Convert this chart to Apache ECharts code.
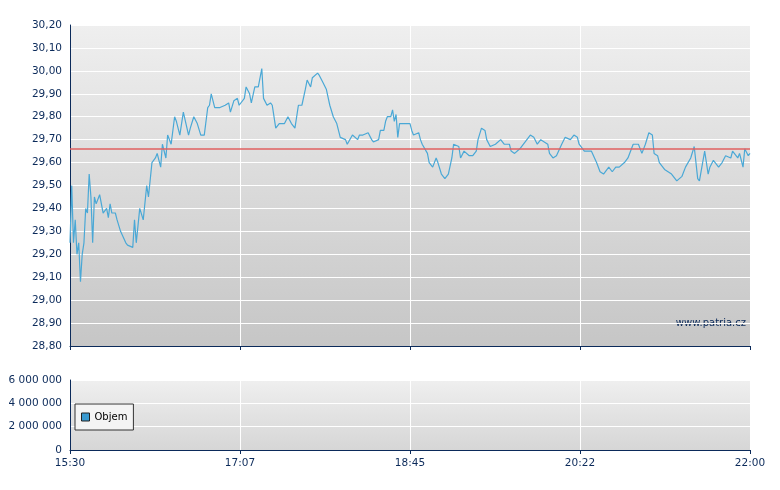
<!DOCTYPE html>
<html><head><meta charset="utf-8">
<script src="https://cdn.jsdelivr.net/npm/echarts@6/dist/echarts.min.js"></script>
<style>html,body{margin:0;padding:0;background:#fff}#c{width:780px;height:490px}</style>
</head><body><div id="c"></div>
<script>
// minutes since 15:30
const minutes = [0,1,2,3,4,5,6,7,8,9,10,11,12,13,14,15,17,19,21,22,23,24,26,27,29,32,33,36,37,38,40,42,44,45,47,49,50,52,53,55,56,58,60,61,63,65,68,69,71,73,75,77,79,80,81,83,86,89,91,92,94,96,97,100,101,103,104,106,108,110,111,113,115,116,118,120,123,125,127,129,131,133,135,136,138,139,142,143,145,147,149,151,153,155,158,159,162,165,166,168,171,173,174,177,178,180,181,182,184,185,186,187,188,189,195,196,197,200,201,202,205,206,208,210,211,213,215,217,219,220,223,224,226,229,231,233,234,236,238,239,241,244,247,249,252,253,255,258,264,266,268,270,274,275,277,279,282,284,287,289,291,292,295,299,302,304,306,309,311,313,315,318,320,323,326,328,330,332,334,335,337,338,341,343,345,348,349,351,353,356,358,360,361,364,366,367,369,372,374,376,379,380,383,384,386,387,389,390];
const prices = [29.25,29.50,29.25,29.35,29.20,29.25,29.08,29.20,29.25,29.40,29.38,29.55,29.45,29.25,29.45,29.42,29.46,29.38,29.40,29.36,29.42,29.38,29.38,29.35,29.30,29.25,29.24,29.23,29.35,29.25,29.40,29.35,29.50,29.45,29.60,29.62,29.64,29.58,29.68,29.62,29.72,29.68,29.80,29.78,29.72,29.82,29.72,29.75,29.80,29.77,29.72,29.72,29.84,29.85,29.90,29.84,29.84,29.85,29.86,29.82,29.87,29.88,29.85,29.88,29.93,29.90,29.86,29.93,29.93,30.01,29.88,29.85,29.86,29.85,29.75,29.77,29.77,29.80,29.77,29.75,29.85,29.85,29.92,29.96,29.93,29.97,29.99,29.98,29.95,29.92,29.85,29.80,29.77,29.71,29.70,29.68,29.72,29.70,29.72,29.72,29.73,29.70,29.69,29.70,29.74,29.74,29.78,29.80,29.80,29.83,29.78,29.81,29.71,29.77,29.77,29.74,29.72,29.73,29.70,29.68,29.64,29.60,29.58,29.62,29.60,29.55,29.53,29.55,29.62,29.68,29.67,29.62,29.65,29.63,29.63,29.65,29.70,29.75,29.74,29.70,29.67,29.68,29.70,29.68,29.68,29.65,29.64,29.66,29.72,29.71,29.68,29.70,29.68,29.64,29.62,29.63,29.68,29.71,29.70,29.72,29.71,29.68,29.65,29.65,29.60,29.56,29.55,29.58,29.56,29.58,29.58,29.60,29.62,29.68,29.68,29.64,29.68,29.73,29.72,29.64,29.63,29.60,29.57,29.56,29.55,29.52,29.52,29.54,29.58,29.62,29.67,29.53,29.52,29.65,29.55,29.58,29.61,29.58,29.60,29.63,29.62,29.65,29.62,29.64,29.58,29.66,29.63,29.64];
const refPrice = 29.66;
const volumeMinutes = [0, 390];
const volumes = [0, 0];
const seriesName = 'Objem';

const navy = '#0b2a5a';
const bg = {type:'linear',x:0,y:0,x2:0,y2:1,colorStops:[{offset:0,color:'#efefef'},{offset:1,color:'#c6c6c6'}]};
const fmtTime = v => { const t = 15*60+30+Math.floor(v); return Math.floor(t/60)+':'+String(t%60).padStart(2,'0'); };
const chart = echarts.init(document.getElementById('c'));
chart.setOption({
  animation:false,
  textStyle:{fontFamily:'DejaVu Sans'},
  grid:[
    {left:70,right:30,top:25,height:321,show:true,borderWidth:0,backgroundColor:bg},
    {left:70,right:30,top:380,height:70,show:true,borderWidth:0,backgroundColor:{type:'linear',x:0,y:0,x2:0,y2:1,colorStops:[{offset:0,color:'#efefef'},{offset:1,color:'#d6d6d6'}]}}
  ],
  xAxis:[
    {gridIndex:0,type:'value',min:0,max:390,interval:97.5,axisLabel:{show:false},
     axisLine:{lineStyle:{color:navy}},axisTick:{lineStyle:{color:navy},length:4},splitLine:{lineStyle:{color:'#fff',width:1}}},
    {gridIndex:1,type:'value',min:0,max:390,interval:97.5,axisLabel:{color:navy,fontSize:10.5,formatter:fmtTime},
     axisLine:{lineStyle:{color:navy}},axisTick:{lineStyle:{color:navy},length:4},splitLine:{lineStyle:{color:'#fff',width:1}}}
  ],
  yAxis:[
    {gridIndex:0,type:'value',min:28.8,max:30.2,interval:0.1,axisLabel:{color:navy,fontSize:10.5,formatter:v=>v.toFixed(2).replace('.',',')},
     axisLine:{show:true,lineStyle:{color:navy}},axisTick:{show:false},splitLine:{lineStyle:{color:'#fff',width:1}}},
    {gridIndex:1,type:'value',min:0,max:6000000,interval:2000000,axisLabel:{color:navy,fontSize:10.5,formatter:v=>String(v).replace(/\B(?=(\d{3})+(?!\d))/g,' ')},
     axisLine:{show:true,lineStyle:{color:navy}},axisTick:{show:false},splitLine:{lineStyle:{color:'#fff',width:1}}}
  ],
  legend:{data:[{name:seriesName,icon:'rect',itemStyle:{color:'#3a9ad0',borderColor:'#222',borderWidth:1}}],left:75,top:404,orient:'vertical',itemWidth:8,itemHeight:8,itemGap:4,
    padding:[8,6,8,6],borderColor:'#333',borderWidth:1,backgroundColor:'#f4f4f4',textStyle:{fontSize:10,color:'#000'}},
  series:[
    {type:'line',xAxisIndex:0,yAxisIndex:0,data:minutes.map((m,i)=>[m,prices[i]]),symbol:'none',
     lineStyle:{color:'#4aa8d6',width:1.2},
     markLine:{silent:true,symbol:'none',label:{show:false},lineStyle:{color:'#e06060',type:'solid',width:1.5},data:[{yAxis:refPrice}]}},
    {name:seriesName,type:'bar',xAxisIndex:1,yAxisIndex:1,barWidth:1,data:volumeMinutes.map((m,i)=>[m,volumes[i]]),
     itemStyle:{color:'#3a9ad0'}}
  ],
  graphic:[{type:'text',right:34,top:318,style:{text:'www.patria.cz',fill:navy,font:'10px DejaVu Sans'}}]
});
</script></body></html>
